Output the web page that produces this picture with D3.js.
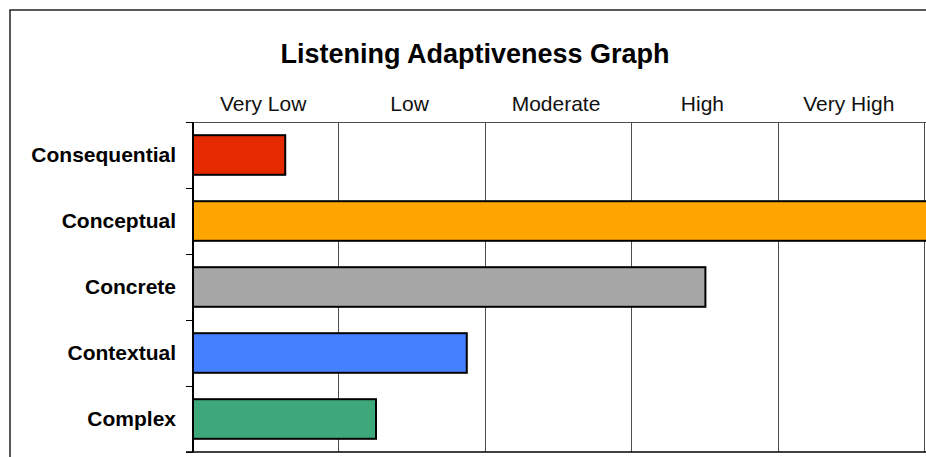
<!DOCTYPE html>
<html>
  <head>
    <style>
      body {
        margin: 0;
        background: #fff;
      }
      svg {
        display: block;
        font-family: "Liberation Sans", Arial, sans-serif;
      }
      .bar {
        stroke: #000;
        stroke-width: 2px;
      }
      .grid {
        stroke: #4d4d4d;
        stroke-width: 1px;
      }
    </style>
  </head>
  <body>
    <script src="https://d3js.org/d3.v7.min.js"></script>
    <script>
      const categories = ["Consequential", "Conceptual", "Concrete", "Contextual", "Complex"],
          values = [0.63, 5.1, 3.5, 1.87, 1.25],
          colors = ["#e62a00", "#ffa500", "#a6a6a6", "#4480ff", "#3da87a"],
          levels = ["Very Low", "Low", "Moderate", "High", "Very High"];

      const width = 926, height = 457,
          margin = {left: 193, right: 1, top: 122, bottom: 5};

      const svg = d3.select("body").append("svg")
          .attr("width", width)
          .attr("height", height);

      // outer frame, runs off the right and bottom edges
      svg.append("rect")
          .attr("x", 10)
          .attr("y", 10)
          .attr("width", width)
          .attr("height", height)
          .attr("fill", "none")
          .attr("stroke", "#222")
          .attr("stroke-width", 1.5);

      svg.append("text")
          .attr("x", 475)
          .attr("y", 63)
          .attr("text-anchor", "middle")
          .attr("font-size", 27)
          .attr("font-weight", "bold")
          .text("Listening Adaptiveness Graph");

      const x = d3.scaleLinear()
          .domain([0, levels.length])
          .range([margin.left, width - margin.right]);

      const y = d3.scaleBand()
          .domain(categories)
          .range([margin.top, height - margin.bottom])
          .paddingInner(0.4)
          .paddingOuter(0.2);

      const step = y.step();

      // vertical gridlines
      svg.append("g").selectAll("line")
        .data(d3.range(1, levels.length + 1))
        .join("line")
          .attr("class", "grid")
          .attr("x1", d => Math.round(x(d)) - 0.5)
          .attr("x2", d => Math.round(x(d)) - 0.5)
          .attr("y1", margin.top)
          .attr("y2", height - margin.bottom);

      // top line and bottom line
      svg.append("line")
          .attr("class", "grid")
          .attr("x1", margin.left - 7)
          .attr("x2", width)
          .attr("y1", margin.top + 0.5)
          .attr("y2", margin.top + 0.5);
      svg.append("line")
          .attr("stroke", "#000")
          .attr("stroke-width", 1.5)
          .attr("x1", margin.left - 7)
          .attr("x2", width)
          .attr("y1", height - margin.bottom)
          .attr("y2", height - margin.bottom);

      // level labels above the plot
      svg.append("g").selectAll("text")
        .data(levels)
        .join("text")
          .attr("x", (d, i) => x(i + 0.5) - 3)
          .attr("y", 111)
          .attr("text-anchor", "middle")
          .attr("font-size", 21)
          .attr("fill", "#111")
          .text(d => d);

      const bars = categories.map((c, i) => ({name: c, value: values[i], color: colors[i]}));

      svg.append("g").selectAll("rect")
        .data(bars)
        .join("rect")
          .attr("class", "bar")
          .attr("x", x(0))
          .attr("y", d => y(d.name))
          .attr("width", d => x(d.value) - x(0))
          .attr("height", y.bandwidth())
          .attr("fill", d => d.color);

      // left axis with ticks between categories
      const yAxis = svg.append("g");
      yAxis.append("line")
          .attr("stroke", "#000")
          .attr("stroke-width", 2)
          .attr("x1", margin.left)
          .attr("x2", margin.left)
          .attr("y1", margin.top)
          .attr("y2", height - margin.bottom);
      yAxis.selectAll(".tick")
        .data(d3.range(categories.length + 1))
        .join("line")
          .attr("class", "tick")
          .attr("stroke", "#000")
          .attr("stroke-width", 1)
          .attr("x1", margin.left - 7)
          .attr("x2", margin.left)
          .attr("y1", d => Math.round(margin.top + d * step) + 0.5)
          .attr("y2", d => Math.round(margin.top + d * step) + 0.5);

      yAxis.selectAll("text")
        .data(categories)
        .join("text")
          .attr("x", 176)
          .attr("y", d => y(d) + y.bandwidth() / 2 + 7)
          .attr("text-anchor", "end")
          .attr("font-size", 21)
          .attr("font-weight", "bold")
          .text(d => d);
    </script>
  </body>
</html>
